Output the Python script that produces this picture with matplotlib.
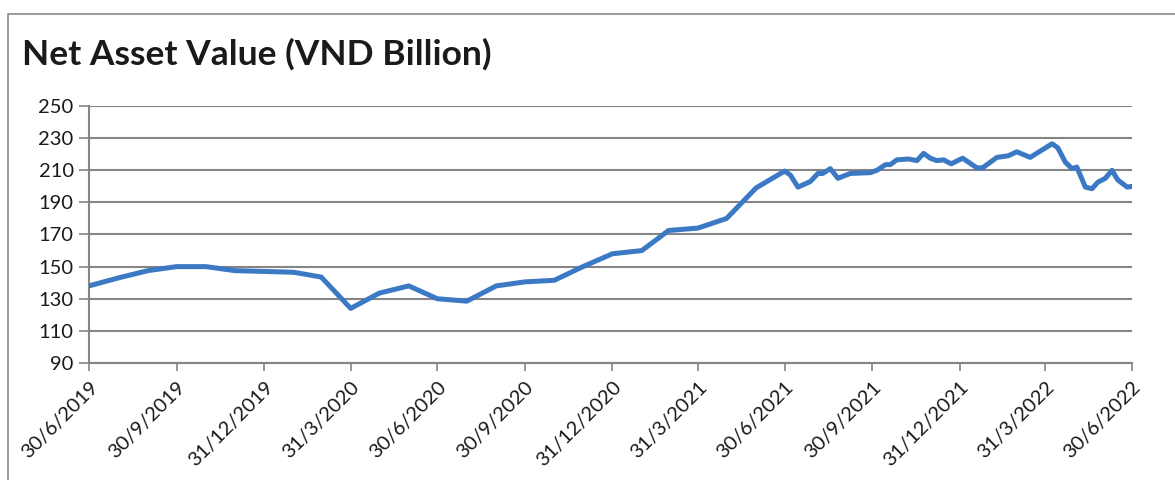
import pandas as pd
import matplotlib.pyplot as plt
from matplotlib.patches import Rectangle

# NAV readings (VND billion)
dates = [
    '2019-06-30', '2019-07-31', '2019-08-31', '2019-09-30', '2019-10-31', '2019-11-30',
    '2019-12-31', '2020-01-31', '2020-02-29', '2020-03-31', '2020-04-30', '2020-05-31',
    '2020-06-30', '2020-07-31', '2020-08-31', '2020-09-30', '2020-10-31', '2020-11-30',
    '2020-12-31', '2021-01-31', '2021-02-28', '2021-03-31', '2021-04-30', '2021-05-31',
    '2021-06-30', '2021-07-06', '2021-07-14', '2021-07-27', '2021-08-04', '2021-08-09',
    '2021-08-17', '2021-08-25', '2021-09-07', '2021-09-28', '2021-10-05', '2021-10-14',
    '2021-10-19', '2021-10-26', '2021-11-07', '2021-11-16', '2021-11-23', '2021-11-30',
    '2021-12-07', '2021-12-14', '2021-12-22', '2022-01-03', '2022-01-18', '2022-01-24',
    '2022-02-08', '2022-02-20', '2022-03-01', '2022-03-15', '2022-04-07', '2022-04-13',
    '2022-04-21', '2022-04-28', '2022-05-03', '2022-05-12', '2022-05-19', '2022-05-25',
    '2022-06-02', '2022-06-09', '2022-06-15', '2022-06-25', '2022-06-30',
]
nav = [
    138, 143, 147.5, 150, 150, 147.5,
    147, 146.5, 143.5, 124, 133.5, 138,
    130, 128.5, 138, 140.5, 141.5, 150,
    158, 160, 172.5, 174, 180, 199,
    209.5, 207, 199.5, 203, 208, 208,
    211, 205, 208, 208.5, 210, 213.5,
    213.5, 216.5, 217, 216, 220.5, 217.5,
    216, 216.5, 214, 217.5, 211.5, 211.5,
    218, 219, 221.5, 218, 226.5, 224,
    215, 211, 212, 199.5, 198.5, 202.5,
    205, 210, 204, 199.5, 200,
]

tick_dates = ['2019-06-30', '2019-09-30', '2019-12-31', '2020-03-31', '2020-06-30',
              '2020-09-30', '2020-12-31', '2021-03-31', '2021-06-30', '2021-09-30',
              '2021-12-31', '2022-03-31', '2022-06-30']
tick_labels = ['30/6/2019', '30/9/2019', '31/12/2019', '31/3/2020', '30/6/2020',
               '30/9/2020', '31/12/2020', '31/3/2021', '30/6/2021', '30/9/2021',
               '31/12/2021', '31/3/2022', '30/6/2022']
y_ticks = [90, 110, 130, 150, 170, 190, 210, 230, 250]

plt.rcParams['font.family'] = ['Lato', 'DejaVu Sans']

x = pd.to_datetime(dates)
ticks = pd.to_datetime(tick_dates)

fig = plt.figure(figsize=(11.75, 4.8), dpi=100)
ax = fig.add_axes([89/1175, 1 - 363/480, (1132 - 89)/1175, (363 - 106)/480])

# outer chart frame
fig.patches.append(Rectangle((8/1175, -0.05), 1.2, 1 - 14/480 + 0.05,
                             transform=fig.transFigure, fill=False,
                             edgecolor='#8a8a8a', linewidth=1.2))

fig.text(22/1175, 1 - 65/480, 'Net Asset Value (VND Billion)',
         fontsize=25.5, fontweight='bold', color='#1a1a1a', ha='left', va='baseline')

ax.plot(x, nav, color='#3b79c4', linewidth=3.6, solid_joinstyle='round', zorder=3)

ax.set_ylim(90, 250)
ax.set_yticks(y_ticks)
ax.set_xlim(ticks[0], ticks[-1])
ax.set_xticks(ticks)
ax.set_xticklabels(tick_labels, rotation=45, ha='right', rotation_mode='anchor')

ax.grid(axis='y', color='#858585', linewidth=1.5)
ax.set_axisbelow(True)
for side in ['top', 'right']:
    ax.spines[side].set_visible(False)
for side in ['left', 'bottom']:
    ax.spines[side].set_color('#858585')
    ax.spines[side].set_linewidth(1.5)

ax.tick_params(axis='y', length=7, width=1.2, color='#858585', labelsize=14.5,
               labelcolor='#1a1a1a', pad=4)
ax.tick_params(axis='x', length=6, width=1.2, color='#858585', labelsize=14.5,
               labelcolor='#1a1a1a', pad=5)

fig.savefig('out.png', dpi=100, facecolor='white')
